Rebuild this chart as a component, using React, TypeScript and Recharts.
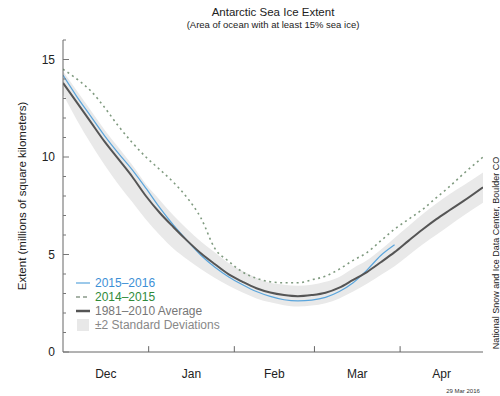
import React from 'react';
import { ComposedChart, Line, Area, XAxis, YAxis, ReferenceLine, Legend } from 'recharts';

// days since 1 Dec
const days = [0, 5, 10, 15, 20, 25, 30, 35, 40, 45, 50, 55, 60, 65, 70, 75, 80, 85, 90, 95, 100, 105, 110, 115, 120, 125, 130, 135, 140, 145, 152];

// 1981-2010 average
const avgExtent = [13.8, 12.8, 11.8, 10.8, 9.9, 9.0, 8.0, 7.14, 6.4, 5.7, 5.05, 4.5, 3.98, 3.6, 3.27, 3.05, 2.92, 2.86, 2.92, 3.04, 3.3, 3.7, 4.1, 4.6, 5.12, 5.7, 6.27, 6.8, 7.28, 7.75, 8.45];
// ±2 standard deviations
const sdLow = [13.2, 11.9, 10.7, 9.6, 8.6, 7.7, 6.8, 6.0, 5.3, 4.75, 4.25, 3.8, 3.4, 3.05, 2.75, 2.55, 2.4, 2.33, 2.38, 2.5, 2.75, 3.1, 3.5, 3.95, 4.4, 4.95, 5.5, 6.0, 6.5, 7.0, 7.65];
const sdHigh = [14.4, 13.4, 12.4, 11.4, 10.5, 9.6, 8.6, 7.8, 7.0, 6.3, 5.65, 5.1, 4.55, 4.15, 3.8, 3.55, 3.45, 3.4, 3.45, 3.6, 3.85, 4.3, 4.7, 5.25, 5.85, 6.45, 7.05, 7.6, 8.1, 8.55, 9.2];
// 2015-2016 (data ends late March)
const ext2015 = [14.2, 13.1, 12.1, 11.1, 10.2, 9.35, 8.4, 7.4, 6.5, 5.7, 4.95, 4.35, 3.85, 3.45, 3.1, 2.85, 2.68, 2.62, 2.66, 2.8, 3.1, 3.55, 4.2, 4.95, 5.5, null, null, null, null, null, null];
// 2014-2015
const ext2014 = [14.5, 14.0, 13.4, 12.55, 11.6, 10.75, 10.0, 9.36, 8.7, 7.9, 6.85, 5.3, 4.65, 4.1, 3.78, 3.6, 3.55, 3.55, 3.7, 3.89, 4.25, 4.7, 5.1, 5.7, 6.3, 6.8, 7.3, 7.9, 8.5, 9.15, 10.0];

const monthLabels = ['Dec', 'Jan', 'Feb', 'Mar', 'Apr'];
const monthMid = [15.5, 46.5, 76.5, 106.5, 137];
const monthStarts = [31, 62, 91, 122];
const yTicks = [0, 1, 2, 3, 4, 5, 6, 7, 8, 9, 10, 11, 12, 13, 14, 15, 16];
const legendLabels = ['2015\u20132016', '2014\u20132015', '1981\u20132010 Average', '\u00b12 Standard Deviations'];

const data = days.map((d, i) => ({
  day: d,
  avg: avgExtent[i],
  band: [sdLow[i], sdHigh[i]],
  y2015: ext2015[i],
  y2014: ext2014[i],
}));

const FONT = '"Liberation Sans", Arial, Helvetica, sans-serif';

const YTick = (props: any) => {
  const { x, y, payload } = props;
  const major = payload.value % 5 === 0;
  return (
    <g>
      <line x1={x} x2={x + (major ? 6 : 3)} y1={y} y2={y} stroke="#777" />
      {major && (
        <text x={x - 8} y={y + 4} textAnchor="end" fontSize={12} fill="#222" fontFamily={FONT}>
          {payload.value}
        </text>
      )}
    </g>
  );
};

const XTick = (props: any) => {
  const { x, y, index } = props;
  return (
    <text x={x} y={y + 26} textAnchor="middle" fontSize={12} fill="#222" fontFamily={FONT}>
      {monthLabels[index]}
    </text>
  );
};

const LegendBox = () => {
  const colors = ['#3d8fd6', '#2f8a3a', '#777', '#888'];
  const symbol = (i: number) => {
    if (i === 0) return <line x1={1} x2={15} y1={7} y2={7} stroke="#5aa5dc" strokeWidth={1.2} />;
    if (i === 1) return <line x1={1} x2={15} y1={7} y2={7} stroke="#8a9a8a" strokeWidth={1.5} strokeDasharray="4 3" />;
    if (i === 2) return <line x1={1} x2={15} y1={7} y2={7} stroke="#555" strokeWidth={2.5} />;
    return <rect x={2} y={1} width={12} height={12} fill="#e8e8e8" />;
  };
  return (
    <div style={{ fontFamily: FONT, fontSize: 12, lineHeight: '14px' }}>
      {legendLabels.map((t, i) => (
        <div key={t} style={{ display: 'flex', alignItems: 'center', height: 14, whiteSpace: 'nowrap' }}>
          <svg width={18} height={14} style={{ marginRight: 2 }}>{symbol(i)}</svg>
          <span style={{ color: colors[i] }}>{t}</span>
        </div>
      ))}
    </div>
  );
};

export default function App() {
  return (
    <div style={{ position: 'absolute', left: 0, top: 0, width: 500, height: 396, background: '#fff' }}>
      <ComposedChart width={500} height={396} data={data} margin={{ top: 40, right: 17, bottom: 14, left: 0 }}>
        <XAxis
          dataKey="day"
          type="number"
          domain={[0, 152]}
          ticks={monthMid}
          tick={<XTick />}
          tickLine={false}
          tickSize={0}
          tickMargin={0}
          height={30}
          stroke="#666"
          allowDataOverflow
        />
        <YAxis
          type="number"
          domain={[0, 16]}
          ticks={yTicks}
          tick={<YTick />}
          tickLine={false}
          tickSize={0}
          tickMargin={0}
          width={63}
          stroke="#666"
          interval={0}
        />
        <Area dataKey="band" stroke="none" fill="#e9e9e9" fillOpacity={1} type="monotone" isAnimationActive={false} />
        {monthStarts.map(m => (
          <ReferenceLine key={m} segment={[{ x: m, y: 0 }, { x: m, y: 0.3 }]} stroke="#666" />
        ))}
        <Line dataKey="y2014" type="monotone" stroke="#7f9a7f" strokeWidth={1.6} strokeDasharray="2 3.5" dot={false} isAnimationActive={false} />
        <Line dataKey="y2015" type="monotone" stroke="#5aa5dc" strokeWidth={1.2} dot={false} isAnimationActive={false} />
        <Line dataKey="avg" type="monotone" stroke="#555" strokeWidth={2} dot={false} isAnimationActive={false} />
        <Legend
          layout="vertical"
          align="center"
          verticalAlign="middle"
          content={<LegendBox />}
          wrapperStyle={{ left: 75, top: 276, width: 200, height: 56 }}
        />
      </ComposedChart>
      <svg width={500} height={396} style={{ position: 'absolute', left: 0, top: 0, pointerEvents: 'none' }}>
        <text x={273} y={16} textAnchor="middle" fontSize={11.5} fill="#222" fontFamily={FONT}>Antarctic Sea Ice Extent</text>
        <text x={273} y={28} textAnchor="middle" fontSize={9.5} fill="#222" fontFamily={FONT}>(Area of ocean with at least 15% sea ice)</text>
        <text transform="translate(26,196) rotate(-90)" textAnchor="middle" fontSize={11.5} fill="#222" fontFamily={FONT}>
          Extent (millions of square kilometers)
        </text>
        <text transform="translate(499,253) rotate(-90)" textAnchor="middle" fontSize={9} fill="#222" fontFamily={FONT}>
          National Snow and Ice Data Center, Boulder CO
        </text>
        <text x={463} y={393} textAnchor="middle" fontSize={6} fill="#333" fontFamily={FONT}>29 Mar 2016</text>
      </svg>
    </div>
  );
}
